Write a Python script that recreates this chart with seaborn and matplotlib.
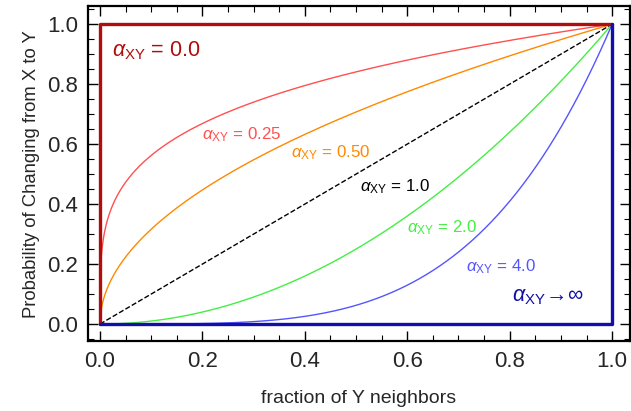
import matplotlib
matplotlib.use("Agg")
import matplotlib.pyplot as plt
import numpy as np
import pandas as pd
import seaborn as sns
from matplotlib.ticker import MultipleLocator

# exponents of the response curves  P = f ** alpha
alphas = [0.25, 0.5, 1.0, 2.0, 4.0]
alpha_labels = ["0.25", "0.50", "1.0", "2.0", "4.0"]
curve_colors = ["#ff5050", "#ff8800", "#000000", "#44ee44", "#5555ff"]
label_xy = [(0.20, 0.63), (0.373, 0.573), (0.508, 0.457), (0.60, 0.323), (0.715, 0.19)]

# limiting cases
zero_x = [0.0, 0.0, 1.0]
zero_y = [0.0, 1.0, 1.0]
inf_x = [0.0, 1.0, 1.0]
inf_y = [0.0, 0.0, 1.0]

sns.set_theme(style="ticks")
plt.rcParams["font.family"] = ["Liberation Sans", "DejaVu Sans"]
plt.rcParams["mathtext.fontset"] = "custom"
plt.rcParams["mathtext.rm"] = "Liberation Sans"
plt.rcParams["mathtext.it"] = "Liberation Sans:italic"
plt.rcParams["mathtext.bf"] = "Liberation Sans:bold"

fig = plt.figure(figsize=(6.31, 4.11), dpi=100)
ax = fig.add_axes([0.1395, 0.170, 0.859, 0.815])

frac = np.linspace(0, 1, 801)
for a, c in zip(alphas, curve_colors):
    df = pd.DataFrame({"f": frac, "p": frac ** a})
    sns.lineplot(data=df, x="f", y="p", color=c, lw=1.0,
                 ls="--" if a == 1.0 else "-", ax=ax, sort=False)

sns.lineplot(x=zero_x, y=zero_y, color="#b00e0e", lw=2.4, ax=ax, sort=False, estimator=None)
sns.lineplot(x=inf_x, y=inf_y, color="#1010a8", lw=2.4, ax=ax, sort=False, estimator=None)

for (tx, ty), lab, c in zip(label_xy, alpha_labels, curve_colors):
    ax.text(tx, ty, r"$\alpha_{\rm XY}$" + " = " + lab, color=c, fontsize=12.2,
            va="center", ha="left")

ax.text(0.023, 0.913, r"$\alpha_{\rm XY}$" + " = 0.0", color="#b00e0e", fontsize=15.5,
        va="center", ha="left")
ax.text(0.805, 0.093, r"$\alpha_{\rm XY}\!\rightarrow\!\infty$", color="#1010a8",
        fontsize=15.5, va="center", ha="left")

ax.set_xlim(-0.0234, 1.035)
ax.set_ylim(-0.057, 1.06)
ax.xaxis.set_major_locator(MultipleLocator(0.2))
ax.xaxis.set_minor_locator(MultipleLocator(0.05))
ax.yaxis.set_major_locator(MultipleLocator(0.2))
ax.yaxis.set_minor_locator(MultipleLocator(0.05))
ax.tick_params(which="both", direction="in", top=True, right=True, color="black")
ax.tick_params(which="major", length=7, width=1.0, labelsize=16, pad=7)
ax.tick_params(which="minor", length=4, width=0.8)
ax.xaxis.set_major_formatter(matplotlib.ticker.FormatStrFormatter("%.1f"))
ax.yaxis.set_major_formatter(matplotlib.ticker.FormatStrFormatter("%.1f"))
for s in ax.spines.values():
    s.set_visible(True)
    s.set_linewidth(1.6)
    s.set_color("black")

ax.set_xlabel("fraction of Y neighbors", fontsize=14, labelpad=13)
ax.set_ylabel("Probability of Changing from X to Y", fontsize=13.3, labelpad=5)

fig.savefig("out.png", dpi=100)
